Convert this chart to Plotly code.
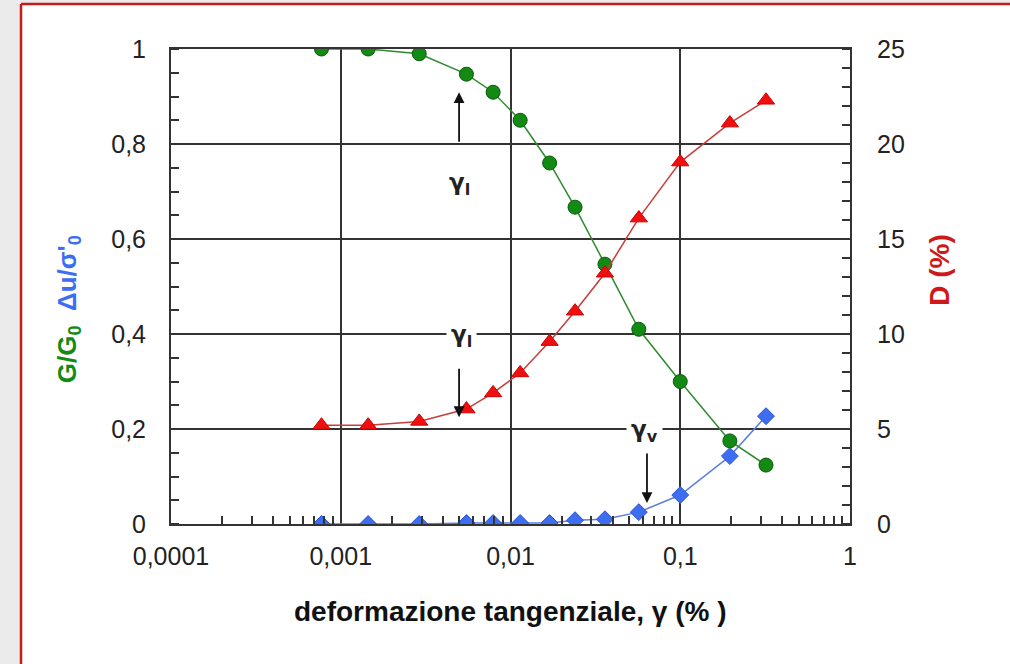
import plotly.graph_objects as go

# ---- data ----
strain = [0.00077, 0.00145, 0.0029, 0.0055, 0.0079, 0.0114, 0.017, 0.024, 0.036, 0.057, 0.100, 0.196, 0.320]
g_ratio = [1.0, 1.0, 0.99, 0.947, 0.909, 0.85, 0.76, 0.667, 0.547, 0.41, 0.30, 0.175, 0.124]
damping = [5.2, 5.2, 5.4, 6.05, 6.9, 7.95, 9.6, 11.2, 13.2, 16.1, 19.05, 21.1, 22.3]
pore = [0.0, 0.0, 0.0, 0.002, 0.002, 0.002, 0.002, 0.008, 0.010, 0.025, 0.061, 0.143, 0.227]

x_tickvals = [0.0001, 0.001, 0.01, 0.1, 1]
x_ticktext = ["0,0001", "0,001", "0,01", "0,1", "1"]
y_tickvals = [0, 0.2, 0.4, 0.6, 0.8, 1]
y_ticktext = ["0", "0,2", "0,4", "0,6", "0,8", "1"]
y2_tickvals = [0, 5, 10, 15, 20, 25]
y2_ticktext = ["0", "5", "10", "15", "20", "25"]

x_minor = [m * 10 ** e for e in range(-4, 0) for m in range(2, 10)]
y_minor = [i * 0.05 for i in range(21)]
y2_minor = list(range(26))

GREEN = "#138a13"
RED = "#ee1010"
BLUE = "#3d6ef2"
AX = "#333333"
FONT = "Liberation Sans, Arial, sans-serif"

fig = go.Figure()
fig.add_trace(go.Scatter(
    x=strain, y=pore, mode="lines+markers", yaxis="y",
    line=dict(color="#5a7fe0", width=1.5),
    marker=dict(symbol="diamond", size=13, color=BLUE, line=dict(color="#2a55d0", width=1)),
    hoverinfo="skip", showlegend=False))
fig.add_trace(go.Scatter(
    x=strain, y=g_ratio, mode="lines+markers", yaxis="y",
    line=dict(color="#2f8a2f", width=1.5),
    marker=dict(symbol="circle", size=14, color=GREEN, line=dict(color="#0a5a0a", width=1)),
    hoverinfo="skip", showlegend=False))
fig.add_trace(go.Scatter(
    x=strain, y=damping, mode="lines+markers", yaxis="y2",
    line=dict(color="#c83c3c", width=1.5),
    marker=dict(symbol="triangle-up", size=15, color=RED, line=dict(color="#d00000", width=1)),
    hoverinfo="skip", showlegend=False))

fig.update_layout(
    width=1010, height=664,
    margin=dict(l=171, r=160, t=49, b=140),
    paper_bgcolor="white", plot_bgcolor="white",
    font=dict(family=FONT, size=25, color="#222222"),
    xaxis=dict(
        type="log", range=[-4, 0],
        tickvals=x_tickvals, ticktext=x_ticktext,
        showgrid=True, gridcolor=AX, gridwidth=2,
        showline=True, linecolor=AX, linewidth=2, mirror=True,
        ticks="", ticklabelstandoff=9, zeroline=False,
        minor=dict(tickvals=x_minor, ticks="inside", ticklen=8, tickcolor=AX, tickwidth=2, showgrid=False),
    ),
    yaxis=dict(
        range=[0, 1], tickvals=y_tickvals, ticktext=y_ticktext,
        showgrid=True, gridcolor=AX, gridwidth=2,
        showline=True, linecolor=AX, linewidth=2, mirror=True,
        ticks="", ticklabelstandoff=18, zeroline=False,
        minor=dict(tickvals=y_minor, ticks="inside", ticklen=8, tickcolor=AX, tickwidth=2, showgrid=False),
    ),
    yaxis2=dict(
        range=[0, 25], overlaying="y", side="right",
        tickvals=y2_tickvals, ticktext=y2_ticktext,
        showgrid=False, showline=True, linecolor=AX, linewidth=2,
        ticks="", ticklabelstandoff=20, zeroline=False,
        minor=dict(tickvals=y2_minor, ticks="inside", ticklen=8, tickcolor=AX, tickwidth=2, showgrid=False),
    ),
)

# page frame: gray strip and red border
fig.add_shape(type="rect", xref="paper", yref="paper", x0=-0.3, x1=-0.2209, y0=-0.4, y1=1.2,
              fillcolor="#ebebeb", line=dict(width=0), layer="below")
fig.add_shape(type="rect", xref="paper", yref="paper", x0=-0.3, x1=1.3, y0=1.0947, y1=1.2,
              fillcolor="#ebebeb", line=dict(width=0), layer="below")
fig.add_shape(type="line", xref="paper", yref="paper", x0=-0.2209, x1=-0.2209, y0=-0.4, y1=1.0947,
              line=dict(color="#c41a1a", width=2.5))
fig.add_shape(type="line", xref="paper", yref="paper", x0=-0.2209, x1=1.3, y0=1.0947, y1=1.0947,
              line=dict(color="#c41a1a", width=2.5))

# axis titles
fig.add_annotation(xref="paper", yref="paper", x=-0.1517, y=0.452, textangle=-90, showarrow=False,
                   xanchor="center", yanchor="middle",
                   text=("<b><span style='color:#138a13'>G/G<sub>0</sub></span>  "
                         "<span style='color:#3d6ef2'>Δu/σ'<sub>0</sub></span></b>"),
                   font=dict(size=26, family=FONT))
fig.add_annotation(xref="paper", yref="paper", x=1.1325, y=0.535, textangle=-90, showarrow=False,
                   xanchor="center", yanchor="middle",
                   text="<b>D (%)</b>", font=dict(size=28, color="#d01818", family=FONT))
fig.add_annotation(xref="paper", yref="paper", x=0.4993, y=-0.185, showarrow=False,
                   xanchor="center", yanchor="middle",
                   text="<b>deformazione tangenziale, γ (% )</b>", font=dict(size=28, color="#111111", family=FONT))

# gamma labels
GFONT = dict(size=23, color="#222222", family="DejaVu Sans, sans-serif")
fig.add_annotation(x=-2.30, y=0.716, xref="x", yref="y", showarrow=False,
                   xanchor="center", yanchor="middle",
                   text="<b>γ<sub>l</sub></b>", font=GFONT)
fig.add_annotation(x=-2.29, y=0.396, xref="x", yref="y", showarrow=False,
                   xanchor="center", yanchor="middle",
                   text="<b>γ<sub>l</sub></b>", font=GFONT, bgcolor="white", borderpad=4)
fig.add_annotation(x=-1.21, y=0.195, xref="x", yref="y", showarrow=False,
                   xanchor="center", yanchor="middle",
                   text="<b>γ<sub>v</sub></b>", font=GFONT, bgcolor="white", borderpad=4)

# arrows
ARW = dict(showarrow=True, arrowhead=2, arrowsize=1.2, arrowwidth=1.8, arrowcolor="#111111", text="", ax=0)
fig.add_annotation(x=-2.303, y=0.909, xref="x", yref="y", ay=51, **ARW)
fig.add_annotation(x=-2.303, y=0.225, xref="x", yref="y", ay=-50, **ARW)
fig.add_annotation(x=-1.196, y=0.044, xref="x", yref="y", ay=-51, **ARW)

fig.write_html(
    "out.html",
    config={"displayModeBar": False},
    post_script="document.body.style.margin='0';document.body.style.background='#ebebeb';",
)
